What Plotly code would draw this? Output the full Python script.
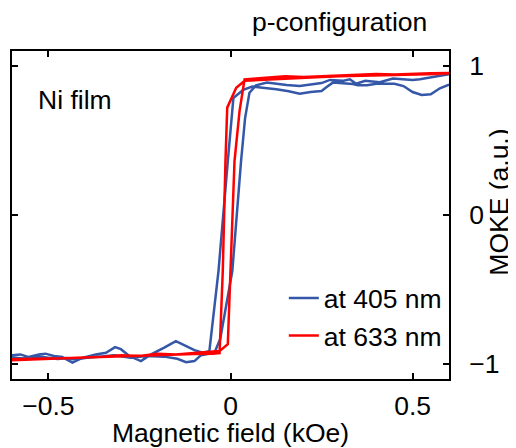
import plotly.graph_objects as go

# ---- data ----
# 405 nm loop: descending branch (field +0.6 -> -0.6)
blue_down_x = [0.6, 0.575, 0.55, 0.525, 0.5, 0.475, 0.45, 0.425, 0.4, 0.375, 0.35, 0.336, 0.31,
               0.281, 0.265, 0.25, 0.22, 0.19, 0.16, 0.126, 0.088, 0.06, 0.035, 0.017, 0.008,
               -0.0074, -0.033, -0.058, -0.076, -0.099, -0.127, -0.15, -0.182, -0.218, -0.246,
               -0.278, -0.301, -0.317, -0.342, -0.37, -0.407, -0.434, -0.462, -0.485, -0.508,
               -0.526, -0.554, -0.577, -0.6]
blue_down_y = [0.875, 0.85, 0.81, 0.805, 0.825, 0.865, 0.88, 0.88, 0.88, 0.87, 0.87, 0.879, 0.885,
               0.888, 0.86, 0.832, 0.825, 0.814, 0.83, 0.844, 0.854, 0.862, 0.84, 0.80, 0.785,
               0.362, -0.376, -0.913, -0.924, -0.906, -0.875, -0.846, -0.89, -0.935, -0.98,
               -0.946, -0.90, -0.886, -0.924, -0.935, -0.958, -0.99, -0.953, -0.946, -0.93,
               -0.935, -0.953, -0.935, -0.94]
# 405 nm loop: ascending branch (field -0.6 -> +0.6)
blue_up_x = [-0.6, -0.575, -0.55, -0.525, -0.5, -0.475, -0.45, -0.425, -0.4, -0.375, -0.35, -0.32,
             -0.274, -0.23, -0.182, -0.146, -0.122, -0.099, -0.081, -0.044, -0.028, 0.005, 0.029,
             0.04, 0.052, 0.07, 0.1, 0.125, 0.154, 0.19, 0.226, 0.25, 0.273, 0.31, 0.328, 0.345,
             0.37, 0.41, 0.446, 0.47, 0.5, 0.52, 0.556, 0.58, 0.6]
blue_up_y = [-0.955, -0.96, -0.965, -0.95, -0.955, -0.965, -0.96, -0.97, -0.96, -0.955, -0.95, -0.94,
             -0.958, -0.945, -0.95, -0.964, -0.987, -0.98, -0.94, -0.924, -0.83, -0.376, 0.362,
             0.65, 0.82, 0.87, 0.888, 0.88, 0.872, 0.866, 0.875, 0.885, 0.906, 0.9, 0.91, 0.88,
             0.9, 0.89, 0.915, 0.91, 0.905, 0.91, 0.925, 0.935, 0.945]

# 633 nm loop
red_down_x = [0.6, 0.55, 0.5, 0.45, 0.4, 0.35, 0.3, 0.25, 0.2, 0.15, 0.1, 0.07, 0.039, 0.0157,
              -0.009, -0.0138, -0.0212, -0.030, -0.05, -0.1, -0.15, -0.2, -0.25, -0.3, -0.35,
              -0.4, -0.45, -0.5, -0.55, -0.6]
red_down_y = [0.948, 0.945, 0.945, 0.94, 0.94, 0.935, 0.93, 0.925, 0.92, 0.915, 0.91, 0.905, 0.90,
              0.854, 0.72, 0.362, -0.376, -0.926, -0.93, -0.932, -0.935, -0.94, -0.945, -0.948,
              -0.952, -0.955, -0.96, -0.963, -0.965, -0.968]
red_up_x = [-0.6, -0.55, -0.5, -0.45, -0.4, -0.35, -0.3, -0.25, -0.2, -0.15, -0.1, -0.05, -0.03,
            -0.0074, 0.0, 0.011, 0.025, 0.0386, 0.07, 0.1, 0.15, 0.2, 0.25, 0.3, 0.35, 0.4, 0.45,
            0.5, 0.55, 0.6]
red_up_y = [-0.975, -0.97, -0.965, -0.96, -0.955, -0.95, -0.94, -0.945, -0.93, -0.935, -0.925,
            -0.92, -0.913, -0.866, -0.376, 0.362, 0.70, 0.91, 0.915, 0.92, 0.93, 0.925, 0.93,
            0.935, 0.94, 0.945, 0.942, 0.948, 0.95, 0.952]

series_names = ["at 405 nm", "at 633 nm"]
x_ticks = [-0.5, 0, 0.5]
x_tick_labels = ["\u22120.5", "0", "0.5"]
y_ticks = [-1, 0, 1]
y_tick_labels = ["\u22121", "0", "1"]

BLUE = "#3557a7"
RED = "#ff0000"
FONT = "Liberation Sans, Arial, sans-serif"
FS = 26.5

fig = go.Figure()
fig.add_trace(go.Scatter(x=blue_down_x + blue_up_x, y=blue_down_y + blue_up_y,
                         mode="lines", name=series_names[0],
                         line=dict(color=BLUE, width=2.5)))
fig.add_trace(go.Scatter(x=red_down_x + red_up_x, y=red_down_y + red_up_y,
                         mode="lines", name=series_names[1],
                         line=dict(color=RED, width=2.5)))

axis_common = dict(showgrid=False, zeroline=False, showline=True, linecolor="black",
                   linewidth=2, mirror="ticks", ticks="inside", ticklen=6, tickwidth=1.5,
                   tickcolor="black", automargin=False,
                   tickfont=dict(family=FONT, size=FS, color="black"))

fig.update_xaxes(range=[-0.6, 0.6], tickvals=x_ticks, ticktext=x_tick_labels,
                 ticklabelstandoff=2,
                 title=dict(text="Magnetic field (kOe)", font=dict(family=FONT, size=FS),
                            standoff=10),
                 **axis_common)
fig.update_yaxes(range=[-1.1, 1.1], tickvals=y_ticks, ticktext=y_tick_labels, side="right",
                 ticklabelstandoff=13,
                 **axis_common)

fig.add_annotation(text="MOKE (a.u.)", xref="paper", yref="paper", x=1.114, y=0.54,
                   textangle=-90, showarrow=False, xanchor="center", yanchor="middle",
                   font=dict(family=FONT, size=FS, color="black"))
fig.add_annotation(text="Ni film", xref="paper", yref="paper", x=0.054, y=0.85,
                   showarrow=False, xanchor="left", yanchor="middle",
                   font=dict(family=FONT, size=FS, color="black"))
fig.add_annotation(text="p-configuration", xref="paper", yref="paper", x=0.955, y=1.088,
                   showarrow=False, xanchor="right", yanchor="middle",
                   font=dict(family=FONT, size=FS, color="black"))

# page body has an 8 px default margin: size the figure so the page is 516x448
fig.update_layout(
    width=508, height=440,
    margin=dict(l=4, r=67, t=43, b=69),
    plot_bgcolor="white", paper_bgcolor="white",
    font=dict(family=FONT, size=FS, color="black"),
    showlegend=True,
    legend=dict(x=0.995, y=0.06, xanchor="right", yanchor="bottom",
                bgcolor="rgba(0,0,0,0)", borderwidth=0, itemwidth=30,
                font=dict(family=FONT, size=FS, color="black"),
                tracegroupgap=0),
)

fig.write_html("out.html")
